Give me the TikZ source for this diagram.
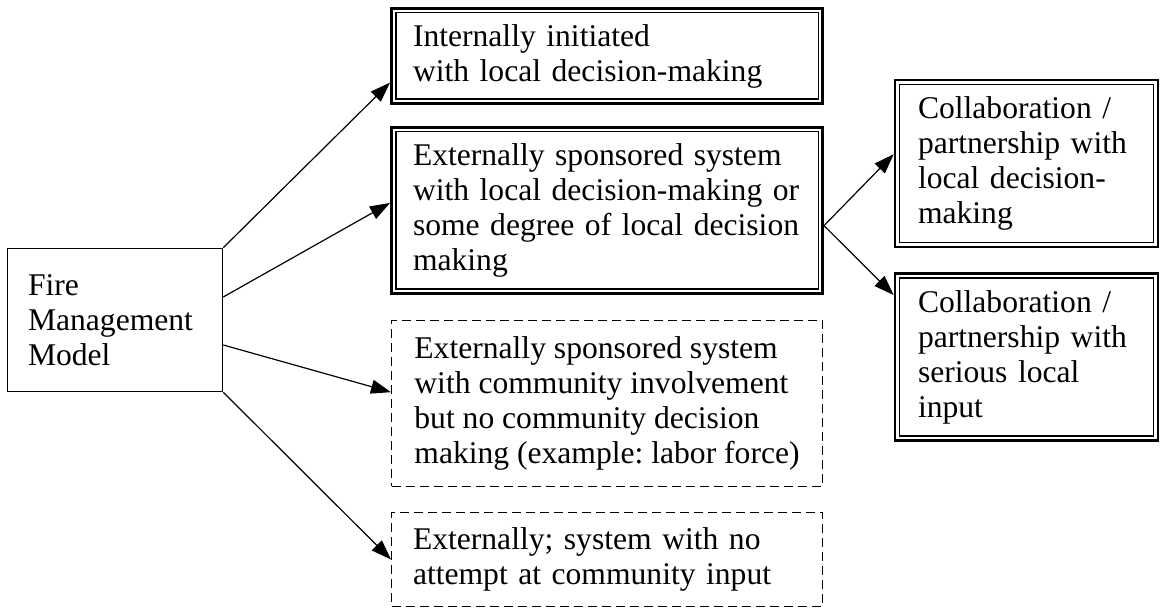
\documentclass[tikz,border=0pt]{standalone}
\usepackage{fontspec}
\setmainfont{Liberation Serif}
\frenchspacing
\usetikzlibrary{arrows.meta}
\tikzset{
  txt/.style={align=left,inner sep=0pt,font=\fontsize{15.8}{17.5}\selectfont},
  plainbox/.style={txt,draw,line width=0.7pt},
  dblbox/.style={txt,draw,line width=1.3pt},
  dashbox/.style={txt,draw,line width=0.6pt,dash pattern=on 4.5pt off 2.5pt},
  arr/.style={-{Triangle[length=10pt,width=7pt]},line width=0.6pt}
}
\begin{document}
\begin{tikzpicture}[x=0.5pt,y=-0.5pt]
    \useasboundingbox (0,0) rectangle (1164,608);
    \node[plainbox,minimum width=107.6pt,minimum height=71.6pt,text width=87pt] (fire) at (115,320) {Fire\\Management\\Model};
    \node[dblbox,minimum width=215.7pt,minimum height=47.7pt,text width=194pt] (a) at (607,56) {Internally initiated\\with local decision-making};
    \node[dblbox,minimum width=215.7pt,minimum height=83.2pt,text width=194pt] (b) at (607,210.5) {Externally sponsored system\\with local decision-making or\\some degree of local decision\\making};
    \node[dashbox,minimum width=215.4pt,minimum height=82.9pt] (c) at (607,403.5) {Externally sponsored system\\with community involvement\\but no community decision\\making (example: labor force)};
    \node[dashbox,minimum width=215.4pt,minimum height=46.9pt,text width=194pt] (d) at (607,559.5) {Externally; system with no\\attempt at community input};
    \node[dblbox,minimum width=131.5pt,minimum height=83.4pt,text width=108.5pt] (e) at (1026.5,163.5) {Collaboration /\\partnership with\\local decision-\\making};
    \node[dblbox,minimum width=131.5pt,minimum height=83.4pt,text width=108.5pt] (f) at (1026.5,357) {Collaboration /\\partnership with\\serious local\\input};
    % inner line of the double frames
    \foreach \n in {a,b,e,f}
      \draw[line width=0.7pt] ([shift={(2.9pt,-2.9pt)}]\n.north west) rectangle ([shift={(-2.9pt,2.9pt)}]\n.south east);
    \draw[arr] (fire.north east) -- (a.-173);
    \draw[arr] (fire.12) -- (b.178);
    \draw[arr] (fire.-13) -- (c.177);
    \draw[arr] (fire.south east) -- (d.west);
    \draw[arr] (b.-4) -- (e.176);
    \draw[arr] (b.-4) -- (f.155);
\end{tikzpicture}
\end{document}
